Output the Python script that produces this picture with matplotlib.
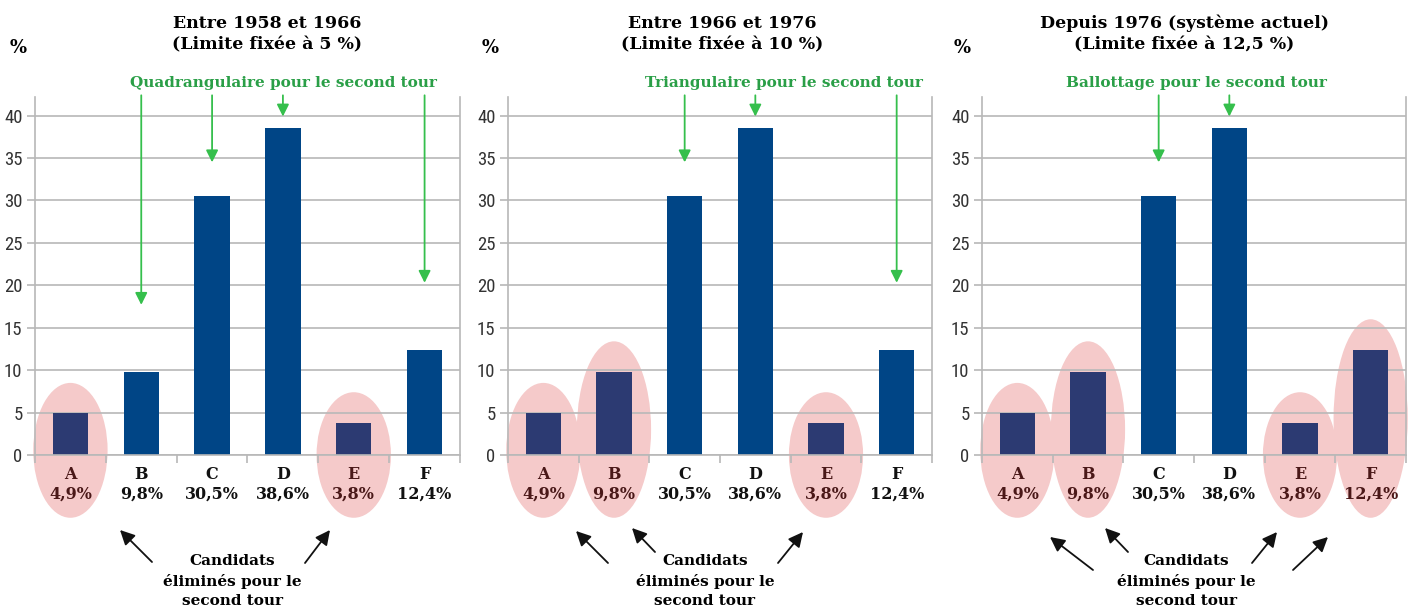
import matplotlib
matplotlib.use('Agg')
import matplotlib.pyplot as plt
from matplotlib import font_manager
from matplotlib.patches import Ellipse

# Data: first-round scores of six candidates
candidates = ['A', 'B', 'C', 'D', 'E', 'F']
scores = [4.9, 9.8, 30.5, 38.6, 3.8, 12.4]

titles = [
    'Entre 1958 et 1966\n(Limite fixée à 5 %)',
    'Entre 1966 et 1976\n(Limite fixée à 10 %)',
    'Depuis 1976 (système actuel)\n(Limite fixée à 12,5 %)',
]
second_round = [
    'Quadrangulaire pour le second tour',
    'Triangulaire pour le second tour',
    'Ballottage pour le second tour',
]
qualified = [['B', 'C', 'D', 'F'], ['C', 'D', 'F'], ['C', 'D']]
eliminated = [['A', 'E'], ['A', 'B', 'E'], ['A', 'B', 'E', 'F']]
eliminated_text = 'Candidats\néliminés pour le\nsecond tour'

# Layout (figure pixels, origin top-left)
W, H = 1414, 610
ax_left = [35, 508, 982]
ax_width = [425, 424, 424]
title_x = [267, 722, 1184]
green_x = [283, 784, 1196]
cand_x = [232, 705, 1186]
pct_x = [18, 490, 962]
green_tip = {'B': 17.7, 'C': 34.5, 'D': 39.9, 'F': 20.3}
black_arrows = [
    [((152, 562), (120, 530)), ((305, 563), (330, 530))],
    [((608, 563), (576, 531)), ((655, 552), (632, 528)), ((778, 563), (803, 532))],
    [((1093, 570), (1050, 537)), ((1128, 552), (1105, 528)),
     ((1252, 563), (1277, 532)), ((1293, 570), (1328, 537))],
]

BLUE = '#004586'
BLUE_ELIM = '#2c3a72'
PINK = '#f5caca'
GRID = '#b8b8b8'
GREEN_TXT = '#2a9f47'
GREEN_ARR = '#35bf4c'
SERIF = 'DejaVu Serif'

# pick a condensed sans for the y tick labels if one is installed
installed = {f.name for f in font_manager.fontManager.ttflist}
NARROW = 'DejaVu Sans'
for name in ['Liberation Sans Narrow', 'DejaVu Sans Condensed', 'Roboto Condensed',
             'Open Sans Condensed', 'Noto Sans Condensed']:
    if name in installed:
        NARROW = name
        break


def fx(px):
    return px / W


def fy(py):
    return 1 - py / H


def fmt(v):
    return f"{v:.1f}".replace('.', ',') + '%'


fig = plt.figure(figsize=(W / 100, H / 100), dpi=100)

ymax = 42.2
for p in range(3):
    ax = fig.add_axes([fx(ax_left[p]), fy(455), ax_width[p] / W, (455 - 97) / H])
    x = list(range(len(candidates)))
    colors = [BLUE_ELIM if c in eliminated[p] else BLUE for c in candidates]
    ax.bar(x, scores, width=0.5, color=colors, zorder=2)

    # pink ellipses around eliminated candidates
    for c in eliminated[p]:
        i = candidates.index(c)
        bottom, top = -7.4, scores[i] + 3.6
        ax.add_patch(Ellipse((i, (bottom + top) / 2), 1.05, top - bottom,
                             facecolor=PINK, edgecolor='none', zorder=0.3, clip_on=False))

    ax.set_xlim(-0.5, len(candidates) - 0.5)
    ax.set_ylim(0, ymax)
    ax.set_axisbelow(True)
    ax.yaxis.grid(True, color=GRID, lw=1.2)
    ax.set_yticks(range(0, 41, 5))
    ax.tick_params(axis='y', length=6, color=GRID, width=1.2, pad=3,
                   labelsize=13.5, labelcolor='#333333')
    for lab in ax.get_yticklabels():
        lab.set_family(NARROW)
    ax.set_xticks(x)
    ax.set_xticklabels([f"{c}\n{fmt(v)}" for c, v in zip(candidates, scores)],
                       family=SERIF, weight='bold', fontsize=11.5, linespacing=1.2)
    for c, lab in zip(candidates, ax.get_xticklabels()):
        lab.set_color('#4a1818' if c in eliminated[p] else '#111111')
    ax.tick_params(axis='x', which='major', length=0, pad=8)
    ax.set_xticks([i - 0.5 for i in range(len(candidates) + 1)], minor=True)
    ax.tick_params(axis='x', which='minor', length=6, color=GRID, width=1.2)
    for s in ['left', 'right', 'bottom']:
        ax.spines[s].set_color(GRID)
        ax.spines[s].set_linewidth(1.2)
    ax.spines['top'].set_visible(False)

    # green arrows to candidates going to the second round
    for c in qualified[p]:
        i = candidates.index(c)
        ax.annotate('', xy=(i, green_tip[c]), xytext=(i, ymax + 0.2),
                    arrowprops=dict(arrowstyle='-|>', color=GREEN_ARR, lw=1.3,
                                    mutation_scale=18, shrinkA=0, shrinkB=0),
                    annotation_clip=False)

    # black arrows to eliminated candidates
    for tail, tip in black_arrows[p]:
        ax.annotate('', xy=(fx(tip[0]), fy(tip[1])), xycoords='figure fraction',
                    xytext=(fx(tail[0]), fy(tail[1])), textcoords='figure fraction',
                    arrowprops=dict(arrowstyle='-|>', color='#111111', lw=1.3,
                                    mutation_scale=22, shrinkA=0, shrinkB=0))

    fig.text(fx(title_x[p]), fy(34), titles[p], ha='center', va='center',
             family=SERIF, weight='bold', fontsize=12.5, linespacing=1.3)
    fig.text(fx(pct_x[p]), fy(48), '%', ha='center', va='center',
             family=SERIF, weight='bold', fontsize=13)
    fig.text(fx(green_x[p]), fy(83), second_round[p], ha='center', va='center',
             family=SERIF, weight='bold', fontsize=11, color=GREEN_TXT)
    fig.text(fx(cand_x[p]), fy(581), eliminated_text, ha='center', va='center',
             family=SERIF, weight='bold', fontsize=11, linespacing=1.45)

fig.savefig('out.png', dpi=100)
